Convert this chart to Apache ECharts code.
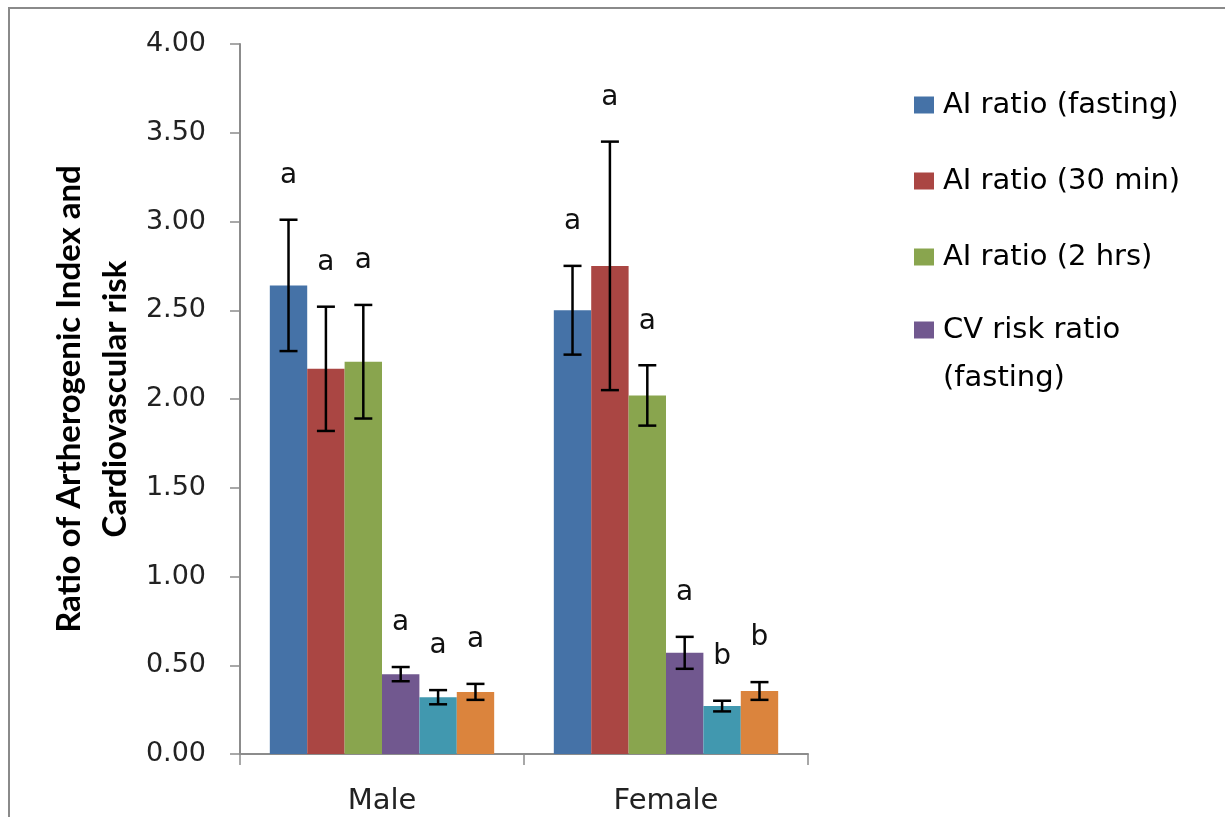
<!DOCTYPE html>
<html>
<head>
<meta charset="utf-8">
<title>Arthrogenic Index and Cardiovascular risk</title>
<script src="https://cdn.jsdelivr.net/npm/echarts@6/dist/echarts.min.js"></script>
<style>
  html, body { margin: 0; padding: 0; background: #fff; }
  #chart { width: 1225px; height: 817px; }
</style>
</head>
<body>
<div id="chart"></div>
<script>
// Groups on the x axis
const categories = ['Male', 'Female'];

// Series names, in bar order within each group
const seriesNames = [
  'AI ratio (fasting)',
  'AI ratio (30 min)',
  'AI ratio (2 hrs)',
  'CV risk ratio (fasting)',
  'CV risk ratio (30 min)',
  'CV risk ratio (2 hrs)'
];

// Mean values [Male, Female]
const aiFasting = [2.64, 2.50];
const ai30min   = [2.17, 2.75];
const ai2hrs    = [2.21, 2.02];
const cvFasting = [0.45, 0.57];
const cv30min   = [0.32, 0.27];
const cv2hrs    = [0.35, 0.355];

// Error (± SE) [Male, Female]
const aiFastingErr = [0.37, 0.25];
const ai30minErr   = [0.35, 0.70];
const ai2hrsErr    = [0.32, 0.17];
const cvFastingErr = [0.04, 0.09];
const cv30minErr   = [0.04, 0.03];
const cv2hrsErr    = [0.045, 0.05];

// Significance letters [Male, Female]
const aiFastingSig = ['a', 'a'];
const ai30minSig   = ['a', 'a'];
const ai2hrsSig    = ['a', 'a'];
const cvFastingSig = ['a', 'a'];
const cv30minSig   = ['a', 'b'];
const cv2hrsSig    = ['a', 'b'];

// Y axis ticks
const yMin = 0, yMax = 4, yStep = 0.5;

const colors = ['#4572A7', '#AA4643', '#89A54E', '#71588F', '#4198AF', '#DB843D'];

const means   = [aiFasting, ai30min, ai2hrs, cvFasting, cv30min, cv2hrs];
const errors  = [aiFastingErr, ai30minErr, ai2hrsErr, cvFastingErr, cv30minErr, cv2hrsErr];
const letters = [aiFastingSig, ai30minSig, ai2hrsSig, cvFastingSig, cv30minSig, cv2hrsSig];

const CATEGORY_GAP = 0.21;   // share of each band left empty
const nSeries = seriesNames.length;

const barSeries = seriesNames.map((name, s) => ({
  name: name,
  type: 'bar',
  barGap: '0%',
  barCategoryGap: (CATEGORY_GAP * 100) + '%',
  itemStyle: { color: colors[s] },
  emphasis: { disabled: true },
  data: means[s]
}));

// One record per bar: [category index, series index, mean, error]
const errRecords = [];
const errLetters = [];
for (let s = 0; s < nSeries; s++) {
  for (let c = 0; c < categories.length; c++) {
    errRecords.push([c, s, means[s][c], errors[s][c]]);
    errLetters.push(letters[s][c]);
  }
}

const errorSeries = {
  type: 'custom',
  name: 'error',
  silent: true,
  z: 10,
  encode: { x: 0, y: 2 },
  data: errRecords,
  renderItem: function (params, api) {
    const c = api.value(0);
    const s = api.value(1);
    const m = api.value(2);
    const e = api.value(3);
    const center = api.coord([c, 0])[0];
    const band = api.size([1, 0])[0];
    const groupW = band * (1 - CATEGORY_GAP);
    const barW = groupW / nSeries;
    const x = center - groupW / 2 + barW * (s + 0.5);
    const yTop = api.coord([c, m + e])[1];
    const yBot = api.coord([c, m - e])[1];
    const cap = 9;
    const lineStyle = { stroke: '#000', lineWidth: 2.5 };
    return {
      type: 'group',
      children: [
        { type: 'line', shape: { x1: x, y1: yTop, x2: x, y2: yBot }, style: lineStyle },
        { type: 'line', shape: { x1: x - cap, y1: yTop, x2: x + cap, y2: yTop }, style: lineStyle },
        { type: 'line', shape: { x1: x - cap, y1: yBot, x2: x + cap, y2: yBot }, style: lineStyle },
        {
          type: 'text',
          style: {
            text: errLetters[params.dataIndex],
            x: x,
            y: yTop - 44,
            align: 'center',
            verticalAlign: 'middle',
            fill: '#111',
            font: '28px "DejaVu Sans"'
          }
        }
      ]
    };
  }
};

const legendText = { fontFamily: 'DejaVu Sans', fontSize: 29, color: '#000', lineHeight: 30, padding: [0, 0, 0, 4] };

const option = {
  animation: false,
  backgroundColor: '#fff',
  graphic: [{
    type: 'rect',
    shape: { x: 9, y: 8, width: 1240, height: 840 },
    style: { fill: 'none', stroke: '#8a8a8a', lineWidth: 2 },
    silent: true
  }],
  legend: [
    {
      orient: 'vertical',
      left: 914,
      top: 90,
      padding: 0,
      itemWidth: 20,
      itemHeight: 17,
      itemGap: 46,
      selectedMode: false,
      icon: 'rect',
      textStyle: legendText,
      data: seriesNames.slice(0, 3)
    },
    {
      orient: 'vertical',
      left: 914,
      top: 258,
      padding: 0,
      itemWidth: 20,
      itemHeight: 17,
      selectedMode: false,
      icon: 'rect',
      textStyle: Object.assign({}, legendText, { lineHeight: 48 }),
      // leading blank line keeps the marker level with the first text line
      formatter: function (name) { return '\n' + name.replace(' (', '\n('); },
      data: [seriesNames[3]]
    }
  ],
  grid: { left: 240, right: 417, top: 44, bottom: 63, containLabel: false },
  xAxis: {
    type: 'category',
    data: categories,
    axisLine: { lineStyle: { color: '#8c8c8c', width: 2 } },
    axisTick: { show: true, length: 11, alignWithLabel: false, lineStyle: { color: '#8c8c8c', width: 1.5 } },
    axisLabel: { margin: 33, fontFamily: 'DejaVu Sans', fontSize: 29, color: '#222' }
  },
  yAxis: {
    type: 'value',
    min: yMin,
    max: yMax,
    interval: yStep,
    name: 'Ratio of Artherogenic Index and\nCardiovascular risk',
    nameLocation: 'middle',
    nameRotate: 90,
    nameGap: 102,
    nameTextStyle: { fontFamily: 'Lato', fontWeight: 'bold', fontSize: 33, lineHeight: 46, color: '#000', align: 'center' },
    axisLine: { show: true, lineStyle: { color: '#8c8c8c', width: 2 } },
    axisTick: { show: true, length: 10, lineStyle: { color: '#8c8c8c', width: 1.5 } },
    splitLine: { show: false },
    axisLabel: {
      margin: 34,
      fontFamily: 'DejaVu Sans',
      fontSize: 27,
      color: '#222',
      formatter: v => v.toFixed(2)
    }
  },
  series: barSeries.concat([errorSeries])
};

const chart = echarts.init(document.getElementById('chart'), null, { renderer: 'canvas' });
chart.setOption(option);
</script>
</body>
</html>
